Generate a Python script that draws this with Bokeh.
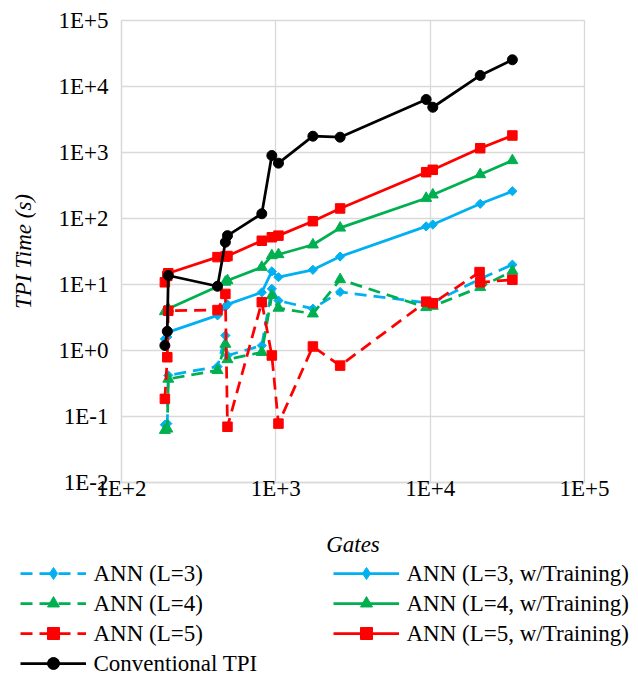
from bokeh.plotting import figure
from bokeh.models import FixedTicker, Legend, LegendItem, Range1d
from bokeh.core.properties import value
from bokeh.embed import file_html
from bokeh.resources import INLINE
import math

# ---- data ----
gates = [191, 198, 201, 419, 471, 486, 811, 942, 1040, 1738, 2610, 9420, 10400, 21100, 34100]
gates_l5 = [191, 198, 201, 419, 471, 486, 811, 942, 1040, 1738, 2610, 9420, 10400, 20900, 21100, 34100]

ann_l3 = [0.075, 0.078, 0.42, 0.57, 1.69, 0.84, 1.19, 8.6, 5.7, 4.3, 7.7, 5.3, 5.3, 12.2, 20.0]
ann_l3_train = [1.5, 1.6, 1.9, 3.4, 4.6, 5.0, 7.6, 15.8, 12.9, 16.7, 26.5, 76, 81, 167, 259]
ann_l4 = [0.062, 0.065, 0.37, 0.50, 1.25, 0.73, 0.94, 6.8, 4.4, 3.6, 11.9, 4.5, 4.7, 9.1, 16.0]
ann_l4_train = [3.9, 4.1, 4.3, 9.3, 10.9, 11.5, 18.3, 27.5, 28.5, 40, 72, 203, 229, 464, 757]
ann_l5 = [0.185, 0.79, 4.0, 4.1, 7.2, 0.07, 5.4, 0.84, 0.078, 1.15, 0.59, 5.5, 5.2, 15.4, 10.8, 11.8]
ann_l5_train = [10.8, 13.5, 14.8, 26, 26.5, 27, 46, 52, 55, 91, 142, 503, 547, 1160, 1810]
conventional = [1.19, 1.95, 13.7, 9.4, 43.7, 55, 118, 900, 690, 1766, 1706, 6350, 4850, 14700, 25400]

x_ticks = [1e2, 1e3, 1e4, 1e5]
x_tick_labels = ["1E+2", "1E+3", "1E+4", "1E+5"]
y_ticks = [1e-2, 1e-1, 1e0, 1e1, 1e2, 1e3, 1e4, 1e5]
y_tick_labels = ["1E-2", "1E-1", "1E+0", "1E+1", "1E+2", "1E+3", "1E+4", "1E+5"]

col1 = ["ANN (L=3)", "ANN (L=4)", "ANN (L=5)", "Conventional TPI"]
col2 = ["ANN (L=3, w/Training)", "ANN (L=4, w/Training)", "ANN (L=5, w/Training)"]

BLUE = "#00B0F0"
GREEN = "#00B050"
RED = "#FF0000"
BLACK = "#000000"
GRID = "#D9D9D9"
FONT = "Liberation Serif"
DASH = "12 7"
LW = 2.75

# ---- main chart ----
p = figure(width=638, height=560, x_axis_type="log", y_axis_type="log",
           x_range=(1e2, 1e5), y_range=(1e-2, 1e5),
           output_backend="svg", toolbar_location=None,
           min_border_left=121, min_border_right=54, min_border_top=20,
           min_border_bottom=78)

p.xaxis.ticker = FixedTicker(ticks=x_ticks)
p.yaxis.ticker = FixedTicker(ticks=y_ticks)
p.xaxis.major_label_overrides = dict(zip(x_ticks, x_tick_labels))
p.yaxis.major_label_overrides = dict(zip(y_ticks, y_tick_labels))

for ax in (p.xaxis[0], p.yaxis[0]):
    ax.major_tick_line_color = None
    ax.minor_tick_line_color = None
    ax.major_tick_in = 0
    ax.major_tick_out = 0
    ax.minor_tick_in = 0
    ax.minor_tick_out = 0
    ax.axis_line_color = GRID
    ax.axis_line_width = 1.3
    ax.major_label_text_font = FONT
    ax.major_label_text_font_size = "23px"
    ax.major_label_text_color = "black"
    ax.axis_label_text_font = FONT
    ax.axis_label_text_font_style = "italic"
    ax.axis_label_text_font_size = "23px"
    ax.axis_label_text_color = "black"

p.xaxis.axis_label = "Gates"
p.yaxis.axis_label = "TPI Time (s)"
p.xaxis.major_label_standoff = -7
p.xaxis.axis_label_standoff = 28
p.yaxis.major_label_standoff = 13
p.yaxis.axis_label_standoff = 19

p.xgrid.grid_line_color = GRID
p.ygrid.grid_line_color = GRID
p.xgrid.grid_line_width = 1.3
p.ygrid.grid_line_width = 1.3
p.outline_line_color = GRID
p.outline_line_width = 1.3

styles = [
    ("ANN (L=3)", gates, ann_l3, BLUE, "square", 6.5, DASH, math.pi / 4),
    ("ANN (L=3, w/Training)", gates, ann_l3_train, BLUE, "square", 6.5, "solid", math.pi / 4),
    ("ANN (L=4)", gates, ann_l4, GREEN, "triangle", 11, DASH, 0.0),
    ("ANN (L=4, w/Training)", gates, ann_l4_train, GREEN, "triangle", 11, "solid", 0.0),
    ("ANN (L=5)", gates_l5, ann_l5, RED, "square", 9.5, DASH, 0.0),
    ("ANN (L=5, w/Training)", gates, ann_l5_train, RED, "square", 9.5, "solid", 0.0),
    ("Conventional TPI", gates, conventional, BLACK, "circle", 10, "solid", 0.0),
]
for label, x, y, c, m, s, d, a in styles:
    p.line(x, y, line_color=c, line_width=LW, line_dash=d)
    p.scatter(x, y, marker=m, size=s, fill_color=c, line_color=c, angle=a)

# ---- legend strip below the chart ----
STRIP_W, STRIP_H = 638, 118
ROW_H = 30
GLYPH_W = 66
STANDOFF = 7
COL_X = [20, 333]
TOP_PAD = 2  # legend top sits this many px above the strip

legend_marker = {"ANN (L=3)": ("diamond", 10), "ANN (L=3, w/Training)": ("diamond", 10),
                 "ANN (L=4)": ("triangle", 9), "ANN (L=4, w/Training)": ("triangle", 9),
                 "ANN (L=5)": ("square", 8), "ANN (L=5, w/Training)": ("square", 8),
                 "Conventional TPI": ("circle", 8)}

q = figure(width=STRIP_W, height=STRIP_H, x_range=(0, STRIP_W), y_range=(0, STRIP_H),
           x_axis_location=None, y_axis_location=None,
           output_backend="svg", toolbar_location=None, min_border=0)
q.grid.visible = False
q.outline_line_color = None
q.extra_y_ranges = {"hidden": Range1d(-2, -1)}

# series drawn on a range that keeps them out of view; they only feed the legend glyphs
leg_r = {}
for label, x, y, c, m, s, d, a in styles:
    lm, ls = legend_marker[label]
    ln = q.line(x, y, line_color=c, line_width=LW, line_dash=d, y_range_name="hidden")
    sc = q.scatter(x, y, marker=lm, size=ls, fill_color=c, line_color=c,
                   y_range_name="hidden")
    leg_r[label] = [ln, sc]

common = dict(orientation="vertical", padding=0, spacing=0, margin=0,
              label_standoff=STANDOFF, glyph_width=GLYPH_W, glyph_height=ROW_H,
              label_height=ROW_H, label_width=1,
              label_text_font=FONT, label_text_font_size="23px",
              background_fill_alpha=0, border_line_alpha=0)

for cx, labels in zip(COL_X, [col1, col2]):
    n = len(labels)
    leg = Legend(items=[LegendItem(label=" ", renderers=leg_r[t]) for t in labels],
                 location=(cx, STRIP_H + TOP_PAD - n * ROW_H), **common)
    q.add_layout(leg, "center")
    # label texts, set in the serif face next to each legend glyph
    tx = [cx + GLYPH_W + STANDOFF] * n
    ty = [STRIP_H + TOP_PAD - ROW_H * (i + 0.5) for i in range(n)]
    q.text(x=tx, y=ty, text=labels, text_font=value(FONT),
           text_font_size=value("23px"), text_color="black",
           text_baseline="middle", text_align="left")

open("out.html", "w").write(file_html([p, q], INLINE))
